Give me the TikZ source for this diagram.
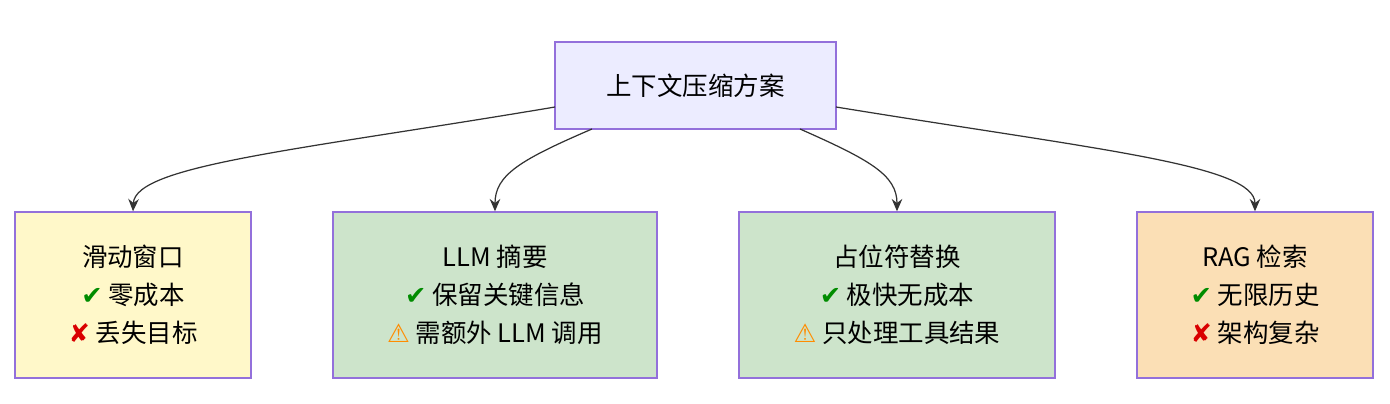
\documentclass[tikz,border=0pt]{standalone}
\usepackage{fontspec}
\setmainfont{Noto Sans CJK SC}
\newfontfamily\sym{DejaVu Sans}
\usetikzlibrary{arrows.meta}
\definecolor{lineC}{HTML}{9370DB}
\definecolor{topC}{HTML}{ECECFF}
\definecolor{yelC}{HTML}{FFF8C9}
\definecolor{grnC}{HTML}{CDE4CB}
\definecolor{orgC}{HTML}{FBDFB5}
\definecolor{edgeC}{HTML}{333333}
\newcommand{\okmark}{{\sym\color{green!55!black}✔}}
\newcommand{\badmark}{{\sym\color{red!85!black}✘}}
\newcommand{\warnmark}{{\sym\color{orange!90!yellow}⚠}}
\tikzset{
    box/.style={draw=lineC, line width=0.8pt, align=center, font=\fontsize{14.5}{21.6}\selectfont, inner sep=0pt},
    link/.style={edgeC, line width=0.7pt, -{Stealth[length=7pt,width=6pt]}}
}
\begin{document}
\begin{tikzpicture}[x=0.02cm, y=-0.02cm]
    \useasboundingbox (0,0) rectangle (1390,404);
    % root
    \node[box, fill=topC, minimum width=281*0.02cm, minimum height=87*0.02cm] (root) at (695.5,85.5) {上下文压缩方案};
    % options
    \node[box, fill=yelC, minimum width=236*0.02cm, minimum height=166*0.02cm] (win) at (133,295)
        {滑动窗口\\ \okmark\ 零成本\\ \badmark\ 丢失目标};
    \node[box, fill=grnC, minimum width=324*0.02cm, minimum height=166*0.02cm] (llm) at (495,295)
        {LLM 摘要\\ \okmark\ 保留关键信息\\ \warnmark\ 需额外 LLM 调用};
    \node[box, fill=grnC, minimum width=316*0.02cm, minimum height=166*0.02cm] (ph) at (897,295)
        {占位符替换\\ \okmark\ 极快无成本\\ \warnmark\ 只处理工具结果};
    \node[box, fill=orgC, minimum width=236*0.02cm, minimum height=166*0.02cm] (rag) at (1255,295)
        {RAG 检索\\ \okmark\ 无限历史\\ \badmark\ 架构复杂};
    % connectors
    \coordinate (s1) at (555,107);
    \coordinate (s2) at (592,129);
    \coordinate (s3) at (800,129);
    \coordinate (s4) at (836,107);
    \draw[link] (s1) .. controls (300,150) and (135,165) .. (win.north);
    \draw[link] (s2) .. controls (520,160) and (495,175) .. (llm.north);
    \draw[link] (s3) .. controls (870,160) and (897,175) .. (ph.north);
    \draw[link] (s4) .. controls (1100,150) and (1255,165) .. (rag.north);
\end{tikzpicture}
\end{document}
